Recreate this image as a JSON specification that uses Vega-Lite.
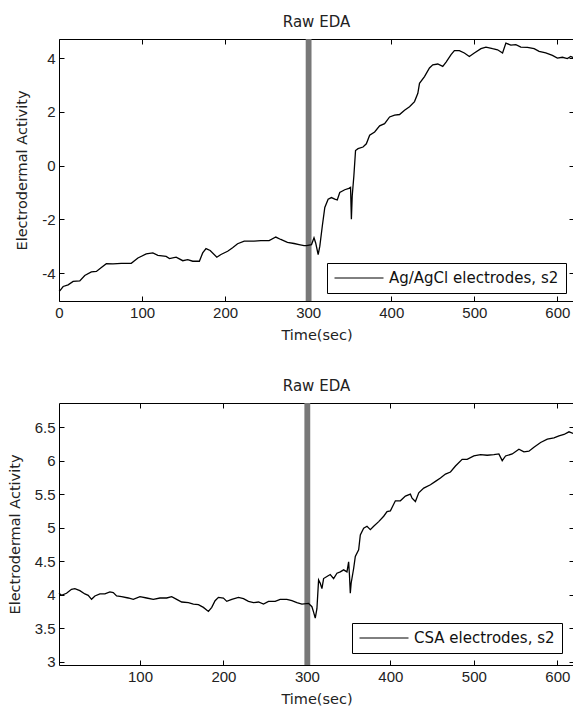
{
  "$schema": "https://vega.github.io/schema/vega-lite/v6.json",
  "padding": {"left": 7, "top": 14, "right": 0, "bottom": 0},
  "background": "white",
  "config": {
    "locale": {"number": {"decimal": ".", "thousands": ",", "grouping": [3], "currency": ["$", ""], "minus": "-"}},
    "view": {"stroke": null},
    "axis": {
      "domainColor": "black", "domainWidth": 1, "tickColor": "black", "tickSize": -5, "tickWidth": 1,
      "labelFont": "Liberation Sans", "labelFontSize": 15, "labelColor": "#222", "labelPadding": 9,
      "titleFont": "DejaVu Sans", "titleFontSize": 14.5, "titleFontWeight": "normal", "titleColor": "#222",
      "titlePadding": 8, "grid": false, "labelFlush": false, "labelOverlap": false
    },
    "axisY": {"titlePadding": 12},
    "title": {"font": "DejaVu Sans", "fontSize": 15, "fontWeight": "normal", "color": "#222", "offset": 9},
    "legend": {
      "orient": "bottom-right", "offset": 8, "title": null, "symbolType": "stroke", "symbolSize": 2401,
      "symbolStrokeWidth": 1, "symbolStrokeColor": "black", "clipHeight": 16,
      "labelFont": "DejaVu Sans", "labelFontSize": 15, "labelColor": "#111", "labelOffset": 5, "labelLimit": 400,
      "padding": 7, "strokeColor": "black", "fillColor": "white", "cornerRadius": 0
    }
  },
  "datasets": {
    "marker": [{"start": 297, "end": 304}],
    "ag": [
      {"t":0,"v":-4.68,"series":"Ag/AgCl electrodes, s2"},{"t":1,"v":-4.66,"series":"Ag/AgCl electrodes, s2"},{"t":5,"v":-4.5,"series":"Ag/AgCl electrodes, s2"},{"t":11,"v":-4.44,"series":"Ag/AgCl electrodes, s2"},{"t":17,"v":-4.31,"series":"Ag/AgCl electrodes, s2"},{"t":25,"v":-4.29,"series":"Ag/AgCl electrodes, s2"},{"t":31,"v":-4.09,"series":"Ag/AgCl electrodes, s2"},{"t":39,"v":-3.96,"series":"Ag/AgCl electrodes, s2"},{"t":45,"v":-3.94,"series":"Ag/AgCl electrodes, s2"},{"t":51,"v":-3.79,"series":"Ag/AgCl electrodes, s2"},{"t":57,"v":-3.65,"series":"Ag/AgCl electrodes, s2"},{"t":65,"v":-3.66,"series":"Ag/AgCl electrodes, s2"},{"t":75,"v":-3.64,"series":"Ag/AgCl electrodes, s2"},{"t":87,"v":-3.64,"series":"Ag/AgCl electrodes, s2"},{"t":95,"v":-3.44,"series":"Ag/AgCl electrodes, s2"},{"t":105,"v":-3.29,"series":"Ag/AgCl electrodes, s2"},{"t":113,"v":-3.25,"series":"Ag/AgCl electrodes, s2"},{"t":119,"v":-3.34,"series":"Ag/AgCl electrodes, s2"},{"t":129,"v":-3.38,"series":"Ag/AgCl electrodes, s2"},{"t":133,"v":-3.46,"series":"Ag/AgCl electrodes, s2"},{"t":141,"v":-3.41,"series":"Ag/AgCl electrodes, s2"},{"t":149,"v":-3.54,"series":"Ag/AgCl electrodes, s2"},{"t":155,"v":-3.5,"series":"Ag/AgCl electrodes, s2"},{"t":161,"v":-3.56,"series":"Ag/AgCl electrodes, s2"},{"t":169,"v":-3.56,"series":"Ag/AgCl electrodes, s2"},{"t":173,"v":-3.25,"series":"Ag/AgCl electrodes, s2"},{"t":177,"v":-3.09,"series":"Ag/AgCl electrodes, s2"},{"t":182,"v":-3.16,"series":"Ag/AgCl electrodes, s2"},{"t":190,"v":-3.41,"series":"Ag/AgCl electrodes, s2"},{"t":195,"v":-3.31,"series":"Ag/AgCl electrodes, s2"},{"t":203,"v":-3.19,"series":"Ag/AgCl electrodes, s2"},{"t":209,"v":-3.06,"series":"Ag/AgCl electrodes, s2"},{"t":215,"v":-2.91,"series":"Ag/AgCl electrodes, s2"},{"t":223,"v":-2.81,"series":"Ag/AgCl electrodes, s2"},{"t":235,"v":-2.81,"series":"Ag/AgCl electrodes, s2"},{"t":243,"v":-2.79,"series":"Ag/AgCl electrodes, s2"},{"t":253,"v":-2.79,"series":"Ag/AgCl electrodes, s2"},{"t":261,"v":-2.66,"series":"Ag/AgCl electrodes, s2"},{"t":267,"v":-2.75,"series":"Ag/AgCl electrodes, s2"},{"t":275,"v":-2.86,"series":"Ag/AgCl electrodes, s2"},{"t":283,"v":-2.9,"series":"Ag/AgCl electrodes, s2"},{"t":289,"v":-2.94,"series":"Ag/AgCl electrodes, s2"},{"t":295,"v":-2.98,"series":"Ag/AgCl electrodes, s2"},{"t":298,"v":-2.98,"series":"Ag/AgCl electrodes, s2"},{"t":304,"v":-2.94,"series":"Ag/AgCl electrodes, s2"},{"t":307,"v":-2.69,"series":"Ag/AgCl electrodes, s2"},{"t":309,"v":-2.88,"series":"Ag/AgCl electrodes, s2"},{"t":312,"v":-3.31,"series":"Ag/AgCl electrodes, s2"},{"t":314,"v":-3.0,"series":"Ag/AgCl electrodes, s2"},{"t":317,"v":-2.25,"series":"Ag/AgCl electrodes, s2"},{"t":320,"v":-1.56,"series":"Ag/AgCl electrodes, s2"},{"t":324,"v":-1.25,"series":"Ag/AgCl electrodes, s2"},{"t":328,"v":-1.19,"series":"Ag/AgCl electrodes, s2"},{"t":332,"v":-1.25,"series":"Ag/AgCl electrodes, s2"},{"t":335,"v":-1.28,"series":"Ag/AgCl electrodes, s2"},{"t":338,"v":-1.0,"series":"Ag/AgCl electrodes, s2"},{"t":344,"v":-0.9,"series":"Ag/AgCl electrodes, s2"},{"t":349,"v":-0.85,"series":"Ag/AgCl electrodes, s2"},{"t":351,"v":-0.81,"series":"Ag/AgCl electrodes, s2"},{"t":352,"v":-2.0,"series":"Ag/AgCl electrodes, s2"},{"t":353,"v":-1.13,"series":"Ag/AgCl electrodes, s2"},{"t":355,"v":-0.38,"series":"Ag/AgCl electrodes, s2"},{"t":357,"v":0.56,"series":"Ag/AgCl electrodes, s2"},{"t":360,"v":0.63,"series":"Ag/AgCl electrodes, s2"},{"t":366,"v":0.69,"series":"Ag/AgCl electrodes, s2"},{"t":370,"v":0.81,"series":"Ag/AgCl electrodes, s2"},{"t":374,"v":1.13,"series":"Ag/AgCl electrodes, s2"},{"t":380,"v":1.25,"series":"Ag/AgCl electrodes, s2"},{"t":386,"v":1.48,"series":"Ag/AgCl electrodes, s2"},{"t":392,"v":1.56,"series":"Ag/AgCl electrodes, s2"},{"t":398,"v":1.81,"series":"Ag/AgCl electrodes, s2"},{"t":404,"v":1.88,"series":"Ag/AgCl electrodes, s2"},{"t":410,"v":1.9,"series":"Ag/AgCl electrodes, s2"},{"t":416,"v":2.06,"series":"Ag/AgCl electrodes, s2"},{"t":422,"v":2.19,"series":"Ag/AgCl electrodes, s2"},{"t":428,"v":2.38,"series":"Ag/AgCl electrodes, s2"},{"t":432,"v":2.69,"series":"Ag/AgCl electrodes, s2"},{"t":434,"v":3.06,"series":"Ag/AgCl electrodes, s2"},{"t":440,"v":3.31,"series":"Ag/AgCl electrodes, s2"},{"t":446,"v":3.63,"series":"Ag/AgCl electrodes, s2"},{"t":450,"v":3.75,"series":"Ag/AgCl electrodes, s2"},{"t":456,"v":3.78,"series":"Ag/AgCl electrodes, s2"},{"t":462,"v":3.69,"series":"Ag/AgCl electrodes, s2"},{"t":466,"v":3.85,"series":"Ag/AgCl electrodes, s2"},{"t":472,"v":4.13,"series":"Ag/AgCl electrodes, s2"},{"t":476,"v":4.28,"series":"Ag/AgCl electrodes, s2"},{"t":482,"v":4.28,"series":"Ag/AgCl electrodes, s2"},{"t":488,"v":4.19,"series":"Ag/AgCl electrodes, s2"},{"t":494,"v":4.06,"series":"Ag/AgCl electrodes, s2"},{"t":500,"v":4.19,"series":"Ag/AgCl electrodes, s2"},{"t":508,"v":4.35,"series":"Ag/AgCl electrodes, s2"},{"t":514,"v":4.41,"series":"Ag/AgCl electrodes, s2"},{"t":522,"v":4.35,"series":"Ag/AgCl electrodes, s2"},{"t":528,"v":4.31,"series":"Ag/AgCl electrodes, s2"},{"t":534,"v":4.19,"series":"Ag/AgCl electrodes, s2"},{"t":538,"v":4.56,"series":"Ag/AgCl electrodes, s2"},{"t":544,"v":4.48,"series":"Ag/AgCl electrodes, s2"},{"t":550,"v":4.5,"series":"Ag/AgCl electrodes, s2"},{"t":556,"v":4.41,"series":"Ag/AgCl electrodes, s2"},{"t":564,"v":4.4,"series":"Ag/AgCl electrodes, s2"},{"t":572,"v":4.35,"series":"Ag/AgCl electrodes, s2"},{"t":578,"v":4.25,"series":"Ag/AgCl electrodes, s2"},{"t":586,"v":4.19,"series":"Ag/AgCl electrodes, s2"},{"t":594,"v":4.1,"series":"Ag/AgCl electrodes, s2"},{"t":600,"v":4.0,"series":"Ag/AgCl electrodes, s2"},{"t":606,"v":4.03,"series":"Ag/AgCl electrodes, s2"},{"t":612,"v":3.98,"series":"Ag/AgCl electrodes, s2"},{"t":616,"v":4.06,"series":"Ag/AgCl electrodes, s2"},{"t":620,"v":4.0,"series":"Ag/AgCl electrodes, s2"}
    ],
    "csa": [
      {"t":3,"v":4.02,"series":"CSA electrodes, s2"},{"t":6,"v":3.99,"series":"CSA electrodes, s2"},{"t":12,"v":4.02,"series":"CSA electrodes, s2"},{"t":18,"v":4.08,"series":"CSA electrodes, s2"},{"t":22,"v":4.09,"series":"CSA electrodes, s2"},{"t":28,"v":4.06,"series":"CSA electrodes, s2"},{"t":34,"v":4.01,"series":"CSA electrodes, s2"},{"t":38,"v":3.99,"series":"CSA electrodes, s2"},{"t":42,"v":3.93,"series":"CSA electrodes, s2"},{"t":46,"v":3.98,"series":"CSA electrodes, s2"},{"t":52,"v":4.01,"series":"CSA electrodes, s2"},{"t":58,"v":4.01,"series":"CSA electrodes, s2"},{"t":64,"v":4.04,"series":"CSA electrodes, s2"},{"t":68,"v":4.03,"series":"CSA electrodes, s2"},{"t":72,"v":3.98,"series":"CSA electrodes, s2"},{"t":78,"v":3.97,"series":"CSA electrodes, s2"},{"t":86,"v":3.95,"series":"CSA electrodes, s2"},{"t":92,"v":3.93,"series":"CSA electrodes, s2"},{"t":100,"v":3.97,"series":"CSA electrodes, s2"},{"t":108,"v":3.95,"series":"CSA electrodes, s2"},{"t":116,"v":3.93,"series":"CSA electrodes, s2"},{"t":124,"v":3.95,"series":"CSA electrodes, s2"},{"t":132,"v":3.95,"series":"CSA electrodes, s2"},{"t":138,"v":3.97,"series":"CSA electrodes, s2"},{"t":144,"v":3.93,"series":"CSA electrodes, s2"},{"t":150,"v":3.89,"series":"CSA electrodes, s2"},{"t":158,"v":3.88,"series":"CSA electrodes, s2"},{"t":164,"v":3.86,"series":"CSA electrodes, s2"},{"t":170,"v":3.85,"series":"CSA electrodes, s2"},{"t":176,"v":3.81,"series":"CSA electrodes, s2"},{"t":182,"v":3.75,"series":"CSA electrodes, s2"},{"t":186,"v":3.81,"series":"CSA electrodes, s2"},{"t":190,"v":3.91,"series":"CSA electrodes, s2"},{"t":194,"v":3.96,"series":"CSA electrodes, s2"},{"t":200,"v":3.95,"series":"CSA electrodes, s2"},{"t":204,"v":3.9,"series":"CSA electrodes, s2"},{"t":210,"v":3.93,"series":"CSA electrodes, s2"},{"t":218,"v":3.96,"series":"CSA electrodes, s2"},{"t":224,"v":3.94,"series":"CSA electrodes, s2"},{"t":230,"v":3.9,"series":"CSA electrodes, s2"},{"t":236,"v":3.88,"series":"CSA electrodes, s2"},{"t":242,"v":3.89,"series":"CSA electrodes, s2"},{"t":248,"v":3.86,"series":"CSA electrodes, s2"},{"t":254,"v":3.9,"series":"CSA electrodes, s2"},{"t":262,"v":3.9,"series":"CSA electrodes, s2"},{"t":268,"v":3.93,"series":"CSA electrodes, s2"},{"t":276,"v":3.93,"series":"CSA electrodes, s2"},{"t":282,"v":3.91,"series":"CSA electrodes, s2"},{"t":288,"v":3.88,"series":"CSA electrodes, s2"},{"t":294,"v":3.86,"series":"CSA electrodes, s2"},{"t":302,"v":3.87,"series":"CSA electrodes, s2"},{"t":306,"v":3.82,"series":"CSA electrodes, s2"},{"t":308,"v":3.74,"series":"CSA electrodes, s2"},{"t":310,"v":3.65,"series":"CSA electrodes, s2"},{"t":312,"v":3.79,"series":"CSA electrodes, s2"},{"t":314,"v":4.22,"series":"CSA electrodes, s2"},{"t":316,"v":4.17,"series":"CSA electrodes, s2"},{"t":318,"v":4.09,"series":"CSA electrodes, s2"},{"t":320,"v":4.24,"series":"CSA electrodes, s2"},{"t":324,"v":4.27,"series":"CSA electrodes, s2"},{"t":328,"v":4.3,"series":"CSA electrodes, s2"},{"t":332,"v":4.24,"series":"CSA electrodes, s2"},{"t":336,"v":4.32,"series":"CSA electrodes, s2"},{"t":340,"v":4.34,"series":"CSA electrodes, s2"},{"t":344,"v":4.37,"series":"CSA electrodes, s2"},{"t":348,"v":4.34,"series":"CSA electrodes, s2"},{"t":350,"v":4.49,"series":"CSA electrodes, s2"},{"t":351,"v":4.29,"series":"CSA electrodes, s2"},{"t":352,"v":4.02,"series":"CSA electrodes, s2"},{"t":353,"v":4.17,"series":"CSA electrodes, s2"},{"t":356,"v":4.39,"series":"CSA electrodes, s2"},{"t":358,"v":4.57,"series":"CSA electrodes, s2"},{"t":362,"v":4.67,"series":"CSA electrodes, s2"},{"t":364,"v":4.89,"series":"CSA electrodes, s2"},{"t":368,"v":4.99,"series":"CSA electrodes, s2"},{"t":372,"v":5.02,"series":"CSA electrodes, s2"},{"t":376,"v":4.97,"series":"CSA electrodes, s2"},{"t":380,"v":5.02,"series":"CSA electrodes, s2"},{"t":386,"v":5.09,"series":"CSA electrodes, s2"},{"t":392,"v":5.17,"series":"CSA electrodes, s2"},{"t":396,"v":5.24,"series":"CSA electrodes, s2"},{"t":400,"v":5.25,"series":"CSA electrodes, s2"},{"t":406,"v":5.4,"series":"CSA electrodes, s2"},{"t":412,"v":5.4,"series":"CSA electrodes, s2"},{"t":418,"v":5.47,"series":"CSA electrodes, s2"},{"t":424,"v":5.5,"series":"CSA electrodes, s2"},{"t":426,"v":5.44,"series":"CSA electrodes, s2"},{"t":430,"v":5.39,"series":"CSA electrodes, s2"},{"t":434,"v":5.52,"series":"CSA electrodes, s2"},{"t":440,"v":5.59,"series":"CSA electrodes, s2"},{"t":448,"v":5.64,"series":"CSA electrodes, s2"},{"t":454,"v":5.69,"series":"CSA electrodes, s2"},{"t":460,"v":5.74,"series":"CSA electrodes, s2"},{"t":466,"v":5.8,"series":"CSA electrodes, s2"},{"t":472,"v":5.83,"series":"CSA electrodes, s2"},{"t":478,"v":5.92,"series":"CSA electrodes, s2"},{"t":486,"v":6.02,"series":"CSA electrodes, s2"},{"t":492,"v":6.02,"series":"CSA electrodes, s2"},{"t":500,"v":6.07,"series":"CSA electrodes, s2"},{"t":508,"v":6.09,"series":"CSA electrodes, s2"},{"t":516,"v":6.08,"series":"CSA electrodes, s2"},{"t":524,"v":6.09,"series":"CSA electrodes, s2"},{"t":530,"v":6.1,"series":"CSA electrodes, s2"},{"t":534,"v":6.0,"series":"CSA electrodes, s2"},{"t":538,"v":6.07,"series":"CSA electrodes, s2"},{"t":546,"v":6.1,"series":"CSA electrodes, s2"},{"t":554,"v":6.17,"series":"CSA electrodes, s2"},{"t":560,"v":6.13,"series":"CSA electrodes, s2"},{"t":566,"v":6.14,"series":"CSA electrodes, s2"},{"t":572,"v":6.2,"series":"CSA electrodes, s2"},{"t":580,"v":6.27,"series":"CSA electrodes, s2"},{"t":588,"v":6.32,"series":"CSA electrodes, s2"},{"t":596,"v":6.34,"series":"CSA electrodes, s2"},{"t":602,"v":6.37,"series":"CSA electrodes, s2"},{"t":608,"v":6.39,"series":"CSA electrodes, s2"},{"t":614,"v":6.43,"series":"CSA electrodes, s2"},{"t":620,"v":6.4,"series":"CSA electrodes, s2"}
    ]
  },
  "bounds": "flush",
  "spacing": 102,
  "resolve": {"scale": {"color": "independent"}, "legend": {"color": "independent"}},
  "vconcat": [
    {
      "title": "Raw EDA",
      "width": 515,
      "height": 262,
      "resolve": {"axis": {"x": "independent", "y": "independent"}},
      "layer": [
        {
          "data": {"name": "marker"},
          "mark": {"type": "rect", "color": "#787878"},
          "encoding": {
            "x": {"field": "start", "type": "quantitative", "scale": {"domain": [0, 620], "nice": false, "zero": false}, "axis": null},
            "x2": {"field": "end"}
          }
        },
        {
          "data": {"name": "ag"},
          "mark": {"type": "line", "color": "black", "strokeWidth": 1.3},
          "encoding": {
            "x": {"field": "t", "type": "quantitative", "axis": {"values": [0, 100, 200, 300, 400, 500, 600], "title": "Time(sec)", "format": "d"}},
            "y": {"field": "v", "type": "quantitative", "scale": {"domain": [-5.04, 4.71], "nice": false, "zero": false}, "axis": {"values": [-4, -2, 0, 2, 4], "title": "Electrodermal Activity", "format": "d"}},
            "color": {"field": "series", "type": "nominal", "scale": {"range": ["black"]}, "legend": {"offset": 8}}
          }
        },
        {
          "data": {"name": "ag"},
          "mark": {"type": "point", "opacity": 0},
          "encoding": {
            "x": {"field": "t", "type": "quantitative", "axis": {"orient": "top", "labels": false, "title": null, "values": [0, 100, 200, 300, 400, 500, 600]}},
            "y": {"field": "v", "type": "quantitative", "axis": {"orient": "right", "labels": false, "title": null, "values": [-4, -2, 0, 2, 4]}}
          }
        }
      ]
    },
    {
      "title": "Raw EDA",
      "width": 515,
      "height": 262,
      "resolve": {"axis": {"x": "independent", "y": "independent"}},
      "layer": [
        {
          "data": {"name": "marker"},
          "mark": {"type": "rect", "color": "#787878"},
          "encoding": {
            "x": {"field": "start", "type": "quantitative", "scale": {"domain": [3, 620], "nice": false, "zero": false}, "axis": null},
            "x2": {"field": "end"}
          }
        },
        {
          "data": {"name": "csa"},
          "mark": {"type": "line", "color": "black", "strokeWidth": 1.3},
          "encoding": {
            "x": {"field": "t", "type": "quantitative", "axis": {"values": [100, 200, 300, 400, 500, 600], "title": "Time(sec)", "format": "d"}},
            "y": {"field": "v", "type": "quantitative", "scale": {"domain": [2.95, 6.86], "nice": false, "zero": false}, "axis": {"values": [3, 3.5, 4, 4.5, 5, 5.5, 6, 6.5], "title": "Electrodermal Activity", "format": "~g"}},
            "color": {"field": "series", "type": "nominal", "scale": {"range": ["black"]}, "legend": {"offset": 12}}
          }
        },
        {
          "data": {"name": "csa"},
          "mark": {"type": "point", "opacity": 0},
          "encoding": {
            "x": {"field": "t", "type": "quantitative", "axis": {"orient": "top", "labels": false, "title": null, "values": [100, 200, 300, 400, 500, 600]}},
            "y": {"field": "v", "type": "quantitative", "axis": {"orient": "right", "labels": false, "title": null, "values": [3, 3.5, 4, 4.5, 5, 5.5, 6, 6.5]}}
          }
        }
      ]
    }
  ]
}
